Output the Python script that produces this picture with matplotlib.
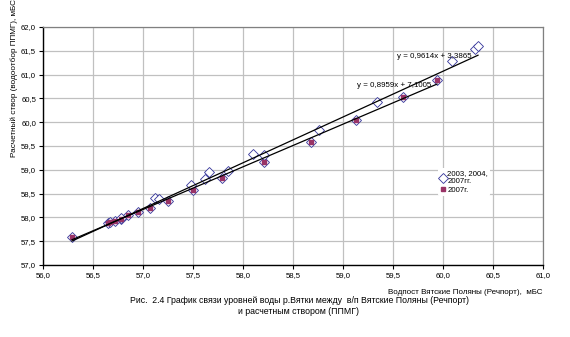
import numpy as np
import matplotlib
matplotlib.use("Agg")
import matplotlib.pyplot as plt
from matplotlib.ticker import MultipleLocator, FuncFormatter

plt.rcParams['font.family'] = ['Liberation Sans', 'DejaVu Sans']

# уровни 2007 г.: водпост Вятские Поляны (x) и расчетный створ (y), мБС
x_2007 = [56.29, 56.65, 56.67, 56.72, 56.78, 56.85, 56.95, 57.07, 57.25,
          57.50, 57.79, 58.21, 58.68, 59.13, 59.60, 59.94]
y_2007 = [57.58, 57.88, 57.90, 57.93, 57.97, 58.06, 58.11, 58.20, 58.35,
          58.58, 58.82, 59.16, 59.59, 60.05, 60.52, 60.89]

# дополнительные точки 2003, 2004 гг.
x_0304 = [56.78, 57.12, 57.16, 57.48, 57.62, 57.66, 57.85, 58.10, 58.21,
          58.76, 59.34, 60.09, 60.32, 60.35]
y_0304 = [57.99, 58.40, 58.38, 58.69, 58.80, 58.95, 58.98, 59.33, 59.31,
          59.84, 60.42, 61.29, 61.53, 61.61]

# линейные тренды (коэффициенты как в подписях)
k_all, b_all = 0.9614, 3.3865
k_07, b_07 = 0.8959, 7.1005

x_all = x_2007 + x_0304
y_all = y_2007 + y_0304

fig = plt.figure(figsize=(5.7, 3.37), dpi=100)
ax = fig.add_axes([43 / 570, 1 - 265 / 337, 500 / 570, 238 / 337])

ax.set_xlim(56.0, 61.0)
ax.set_ylim(57.0, 62.0)
ax.xaxis.set_major_locator(MultipleLocator(0.5))
ax.yaxis.set_major_locator(MultipleLocator(0.5))
comma = FuncFormatter(lambda v, p: f"{v:.1f}".replace('.', ','))
ax.xaxis.set_major_formatter(comma)
ax.yaxis.set_major_formatter(comma)
ax.tick_params(labelsize=5.6, length=3, width=0.8, direction='out', pad=2)
ax.grid(True, color='#c0c0c0', lw=0.9)
ax.set_axisbelow(True)
for s in ('top', 'right'):
    ax.spines[s].set_color('#808080')
    ax.spines[s].set_linewidth(0.9)
for s in ('left', 'bottom'):
    ax.spines[s].set_color('black')
    ax.spines[s].set_linewidth(1.0)

# точки
ax.plot(x_all, y_all, ls='none', marker='D', ms=4.6, mfc='white',
        mec='#333399', mew=0.6, label='2003, 2004,\n2007гг.', zorder=3)
ax.plot(x_2007, y_2007, ls='none', marker='s', ms=3.4, mfc='#993366',
        mec='#993366', label='2007г.', zorder=4)

# линии тренда
xa = np.array([min(x_all), max(x_all)])
ax.plot(xa, k_all * xa + b_all, color='black', lw=0.9, zorder=5)
xb = np.array([min(x_2007), max(x_2007)])
ax.plot(xb, k_07 * xb + b_07, color='black', lw=0.9, zorder=5)

ax.text(59.54, 61.37, 'y = 0,9614x + 3,3865', fontsize=5.7, va='center', zorder=6)
ax.text(59.14, 60.78, 'y = 0,8959x + 7,1005', fontsize=5.7, va='center', zorder=6)

leg = ax.legend(loc='upper left', bbox_to_anchor=(395 / 500, 1 - 141 / 238),
                fontsize=5.6, frameon=True, handlelength=0.6, handletextpad=0.3,
                borderpad=0.3, labelspacing=0.1, borderaxespad=0)
leg.get_frame().set_edgecolor('none')
leg.get_frame().set_facecolor('white')
leg.get_frame().set_alpha(1)

fig.text(542 / 570, 1 - 292 / 337, 'Водпост Вятские Поляны (Речпорт),  мБС',
         fontsize=5.8, ha='right', va='center')
fig.text(14 / 570, 1 - 78 / 337, 'Расчетный створ (водоотбор ППМГ), мБС',
         fontsize=5.9, rotation=90, ha='center', va='center')
fig.text(299 / 570, 1 - 306 / 337,
         'Рис.  2.4 График связи уровней воды р.Вятки между  в/п Вятские Поляны (Речпорт)\n'
         'и расчетным створом (ППМГ)',
         fontsize=6.3, ha='center', va='center', linespacing=1.25)

fig.savefig('out.png', dpi=100)
